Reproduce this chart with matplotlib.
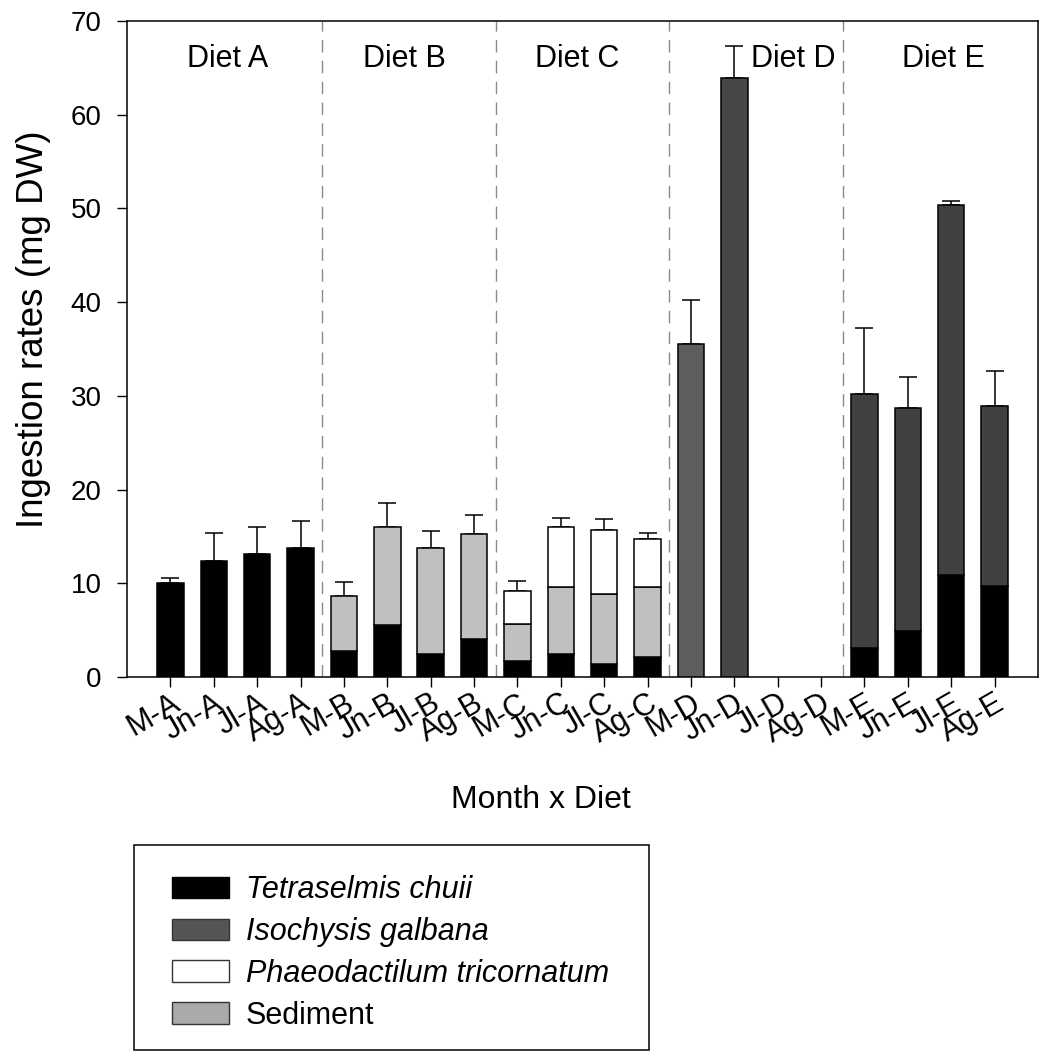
import numpy as np
import matplotlib
matplotlib.use('Agg')
import matplotlib.pyplot as plt
from matplotlib.patches import Patch, Rectangle
from matplotlib.transforms import ScaledTranslation

plt.rcParams['font.family'] = ['Liberation Sans', 'DejaVu Sans']

# month x diet categories
labels = ['M-A', 'Jn-A', 'Jl-A', 'Ag-A',
          'M-B', 'Jn-B', 'Jl-B', 'Ag-B',
          'M-C', 'Jn-C', 'Jl-C', 'Ag-C',
          'M-D', 'Jn-D', 'Jl-D', 'Ag-D',
          'M-E', 'Jn-E', 'Jl-E', 'Ag-E']
diets = ['Diet A', 'Diet B', 'Diet C', 'Diet D', 'Diet E']

# stacked components (mg DW)
tetraselmis = [10.0, 12.4, 13.1, 13.8,
               2.8, 5.5, 2.5, 4.1,
               1.7, 2.5, 1.4, 2.1,
               0.0, 0.0, 0.0, 0.0,
               3.1, 4.9, 10.9, 9.7]
galbana = [0.0, 0.0, 0.0, 0.0,
           0.0, 0.0, 0.0, 0.0,
           0.0, 0.0, 0.0, 0.0,
           35.5, 63.9, 0.0, 0.0,
           27.1, 23.8, 39.5, 19.2]
sediment = [0.0, 0.0, 0.0, 0.0,
            5.85, 10.5, 11.3, 11.2,
            4.0, 7.1, 7.5, 7.5,
            0.0, 0.0, 0.0, 0.0,
            0.0, 0.0, 0.0, 0.0]
phaeo = [0.0, 0.0, 0.0, 0.0,
         0.0, 0.0, 0.0, 0.0,
         3.5, 6.4, 6.8, 5.1,
         0.0, 0.0, 0.0, 0.0,
         0.0, 0.0, 0.0, 0.0]
# upper error (SE)
err = [0.6, 3.0, 2.9, 2.8,
       1.45, 2.6, 1.75, 2.0,
       1.0, 1.0, 1.2, 0.7,
       4.7, 3.4, 0.0, 0.0,
       7.0, 3.3, 0.4, 3.7]

legend_names = ['Tetraselmis chuii', 'Isochysis galbana',
                'Phaeodactilum tricornatum', 'Sediment']

galbana_cols = ['#444444'] * 12 + ['#5e5e5e', '#474747', '#444444', '#444444'] + ['#414141'] * 4

fig = plt.figure(figsize=(10.44, 10.57), dpi=100)
ax = fig.add_axes([127 / 1044, 1 - 677 / 1057, (1038 - 127) / 1044, (677 - 21) / 1057])

x = np.arange(len(labels))
w = 0.61
series = [(tetraselmis, 'black'), (galbana, None), (sediment, '#c0c0c0'), (phaeo, 'white')]
bottom = np.zeros(len(labels))
for vals, col in series:
    vals = np.array(vals)
    idx = np.where(vals > 0)[0]
    cols = [galbana_cols[i] for i in idx] if col is None else col
    ax.bar(x[idx], vals[idx], w, bottom=bottom[idx], color=cols,
           edgecolor='black', linewidth=1.1, zorder=3)
    bottom += vals

total = bottom
err = np.array(err)
m = total > 0
ax.errorbar(x[m], total[m], yerr=[np.zeros(m.sum()), err[m]], fmt='none',
            ecolor='black', elinewidth=1.1, capsize=6.8, capthick=1.1, zorder=2)

for b in [3.5, 7.5, 11.5, 15.5]:
    ax.axvline(b, color='#8a8a8a', lw=1.0, ls=(0, (9, 6)), zorder=1)

shifts = [-0.17, -0.1, -0.13, 0.85, 0.32]
for k, name in enumerate(diets):
    ax.text(4 * k + 1.5 + shifts[k], 65.9, name, ha='center', va='center', fontsize=22)

ax.set_xlim(-1, 20)
ax.set_ylim(0, 70)
ax.set_yticks(np.arange(0, 71, 10))
ax.set_xticks(x)
ax.set_xticklabels(labels, rotation=30, ha='right', va='top', rotation_mode='anchor',
                   fontsize=22)
off = ScaledTranslation(0.135, 0.03, fig.dpi_scale_trans)
for lab in ax.get_xticklabels():
    lab.set_transform(lab.get_transform() + off)
ax.tick_params(axis='both', direction='out', length=7.2, width=1.0)
ax.tick_params(axis='y', labelsize=20, pad=11)
ax.tick_params(axis='x', pad=1)
for s in ax.spines.values():
    s.set_linewidth(1.1)

ax.set_xlabel('Month x Diet', fontsize=23, va='center')
ax.xaxis.set_label_coords(0.454, -0.1875)
ax.set_ylabel('Ingestion rates (mg DW)', fontsize=26.5, va='center')
ax.yaxis.set_label_coords(-0.103, 0.53)

# legend with a fixed outer frame
fig.add_artist(Rectangle((134 / 1044, 1 - 1050 / 1057), (649 - 134) / 1044, (1050 - 845) / 1057,
                         transform=fig.transFigure, fill=False, edgecolor='black', lw=1.1))
handles = [Patch(facecolor='black', edgecolor='black', linewidth=1.0),
           Patch(facecolor='#555555', edgecolor='#333333', linewidth=1.0),
           Patch(facecolor='white', edgecolor='#333333', linewidth=1.0),
           Patch(facecolor='#aaaaaa', edgecolor='#333333', linewidth=1.0)]
leg = fig.legend(handles, legend_names, loc='upper left',
                 bbox_to_anchor=(172 / 1044, 1 - 875 / 1057), bbox_transform=fig.transFigure,
                 borderaxespad=0, borderpad=0, fontsize=22, frameon=False,
                 handlelength=1.87, handleheight=0.7, handletextpad=0.55, labelspacing=0.39)
for t in leg.get_texts()[:3]:
    t.set_fontstyle('italic')

fig.savefig('out.png', dpi=100)
